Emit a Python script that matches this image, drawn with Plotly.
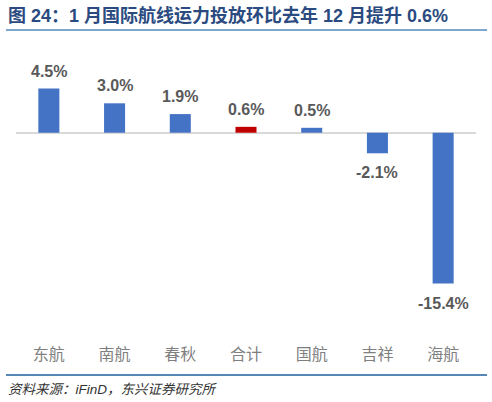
import plotly.graph_objects as go

airlines = ['东航', '南航', '春秋', '合计', '国航', '吉祥', '海航']
mom_change = [4.5, 3.0, 1.9, 0.6, 0.5, -2.1, -15.4]
value_labels = ['4.5%', '3.0%', '1.9%', '0.6%', '0.5%', '-2.1%', '-15.4%']

bar_colors = ['#C00000' if a == '合计' else '#4472C4' for a in airlines]

fig = go.Figure()
fig.add_trace(go.Bar(x=airlines, y=mom_change, marker_color=bar_colors, width=0.32,
                     marker_line_width=0))

# 数值标签
for a, v, t in zip(airlines, mom_change, value_labels):
    fig.add_annotation(x=a, y=v, text='<b>' + t + '</b>', showarrow=False,
                       yanchor='bottom' if v >= 0 else 'top',
                       yshift=7 if v >= 0 else -9,
                       font=dict(size=16, color='#595959', family='Liberation Sans, Arial, sans-serif'),
                       )
# 标题 & 来源
fig.add_annotation(xref='paper', yref='paper', x=-0.0217, y=1.119, xanchor='left', yanchor='middle',
                   text='<b>图 24：1 月国际航线运力投放环比去年 12 月提升 0.6%</b>', showarrow=False,
                   font=dict(size=18, color='#2B4B80', family='Liberation Sans, Noto Sans CJK SC'))
fig.add_annotation(xref='paper', yref='paper', x=-0.0217, y=-0.157, xanchor='left', yanchor='middle',
                   text='<i>资料来源：iFinD，东兴证券研究所</i>', showarrow=False,
                   font=dict(size=13.5, color='#333333', family='Liberation Sans, Noto Sans CJK SC'))
fig.add_shape(type='line', xref='paper', yref='paper', x0=-0.0217, x1=1.024, y0=1.068, y1=1.068,
              line=dict(color='#7FA7CE', width=2))
fig.add_shape(type='line', xref='paper', yref='paper', x0=-0.0217, x1=1.024, y0=-0.109, y1=-0.109,
              line=dict(color='#1F5F9C', width=1.5))

fig.update_layout(width=492, height=402, margin=dict(l=16, r=16, t=50, b=59),
                  plot_bgcolor='white', paper_bgcolor='white', showlegend=False,
                  font=dict(family='Liberation Sans, Noto Sans CJK SC'))
fig.update_xaxes(showgrid=False, showline=False, ticks='',
                 tickfont=dict(size=16, color='#7F7F7F', family='Noto Sans CJK SC'))
fig.update_yaxes(range=[-21.46, 8.44], showgrid=False, showticklabels=False,
                 zeroline=True, zerolinecolor='#D9D9D9', zerolinewidth=1.5)
fig.write_html('out.html', config={'displayModeBar': False},
               post_script="document.body.style.margin='0';")
